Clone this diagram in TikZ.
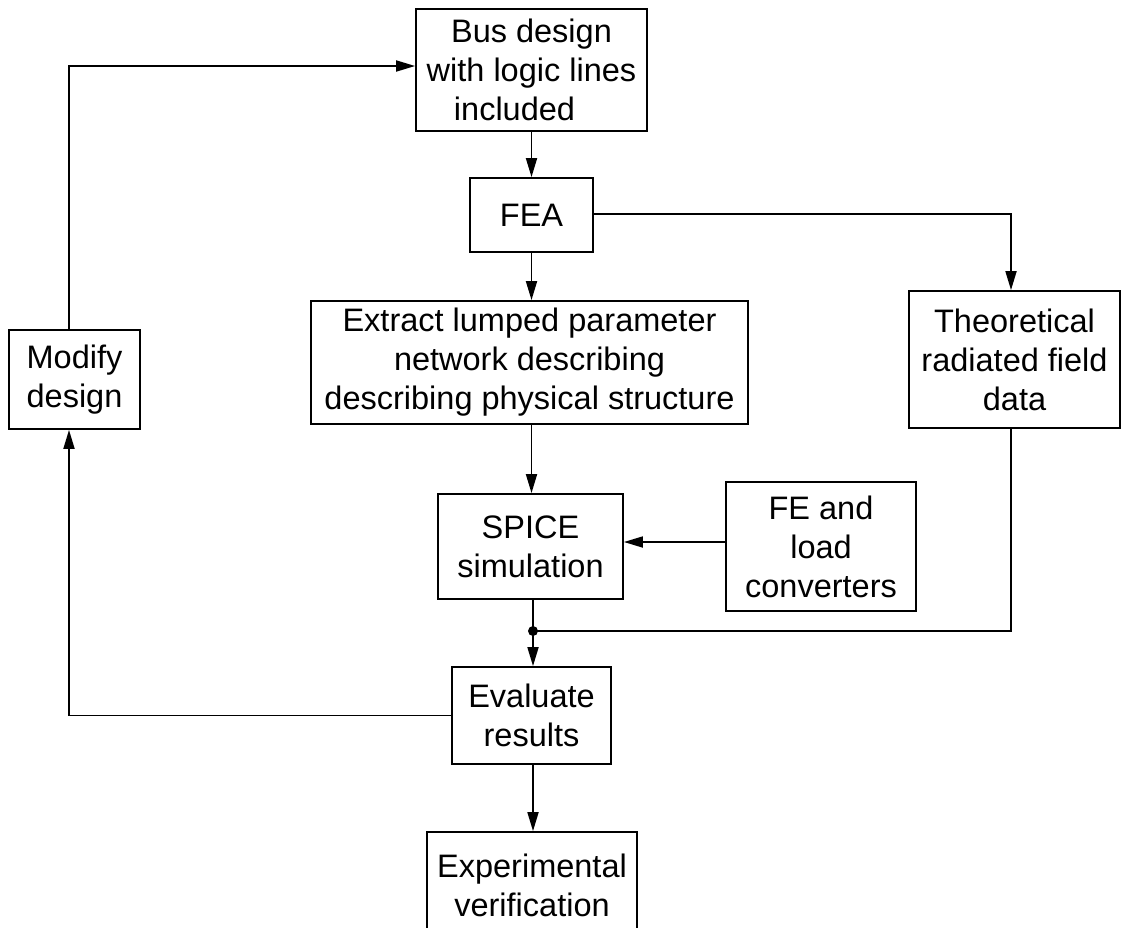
\documentclass[tikz,border=0pt]{standalone}
\usepackage{fontspec}
\setmainfont{Liberation Sans}
\usetikzlibrary{arrows.meta}
\begin{document}
\begin{tikzpicture}[x=1pt,y=-1pt,
  box/.style={draw, line width=1.8pt, align=center, inner sep=0pt,
    font=\fontsize{32.5}{39}\selectfont},
  link/.style={line width=1.8pt},
  flow/.style={line width=1.8pt, -{Triangle[length=19pt,width=11pt]}}]
\useasboundingbox (0,0) rectangle (1123,927);
\clip (0,0) rectangle (1123,927);
\fill[white] (0,0) rectangle (1123,927);

% process boxes
\node[box, minimum width=231pt, minimum height=122pt] (bus) at (531.5,70)
  {Bus design\\with logic lines\\included\hspace*{34pt}};
\node[box, minimum width=123pt, minimum height=74pt] (fea) at (531.5,215) {FEA};
\node[box, minimum width=437pt, minimum height=123pt] (extract) at (529.5,362.5)
  {Extract lumped parameter\\network describing\hspace*{48pt}\\describing physical structure};
\node[box, minimum width=211pt, minimum height=137pt] (theo) at (1014.5,359.5)
  {Theoretical\\radiated field\\data};
\node[box, minimum width=131pt, minimum height=99pt] (modify) at (74.5,379.5)
  {Modify\\design};
\node[box, minimum width=185pt, minimum height=105pt] (spice) at (530.5,546.5)
  {SPICE\\simulation};
\node[box, minimum width=190pt, minimum height=129pt] (fe) at (821,546.5)
  {FE and\\load\\converters};
\node[box, minimum width=159pt, minimum height=97pt] (eval) at (531.5,715.5)
  {Evaluate\\results};
\node[box, minimum width=210pt, minimum height=106pt] (exp) at (532,885)
  {Experimental\\verification};

% routing points
\coordinate (join) at (533,631);
\coordinate (lx) at (69,66);
\coordinate (rx) at (1011,214);
\coordinate (fy) at (700,542);

% connectors
\draw[flow] (bus.south) -- (fea.north);
\draw[flow] (fea.south) -- (fea.south |- extract.north);
\draw[flow] (fea.east |- rx) -- (rx) -- (rx |- theo.north);
\draw[flow] (extract.south -| fea.south) -- (fea.south |- spice.north);
\draw[flow] (fe.west |- fy) -- (spice.east |- fy);
\draw[link] (spice.south -| join) -- (join);
\draw[flow] (join) -- (join |- eval.north);
\draw[link] (rx |- theo.south) -- (rx |- join) -- (join);
\fill (join) circle (5pt);
\draw[flow] (eval.west) -- (eval.west -| lx) -- (lx |- modify.south);
\draw[flow] (lx |- modify.north) -- (lx) -- (lx -| bus.west);
\draw[flow] (eval.south -| join) -- (join |- exp.north);
\end{tikzpicture}
\end{document}
